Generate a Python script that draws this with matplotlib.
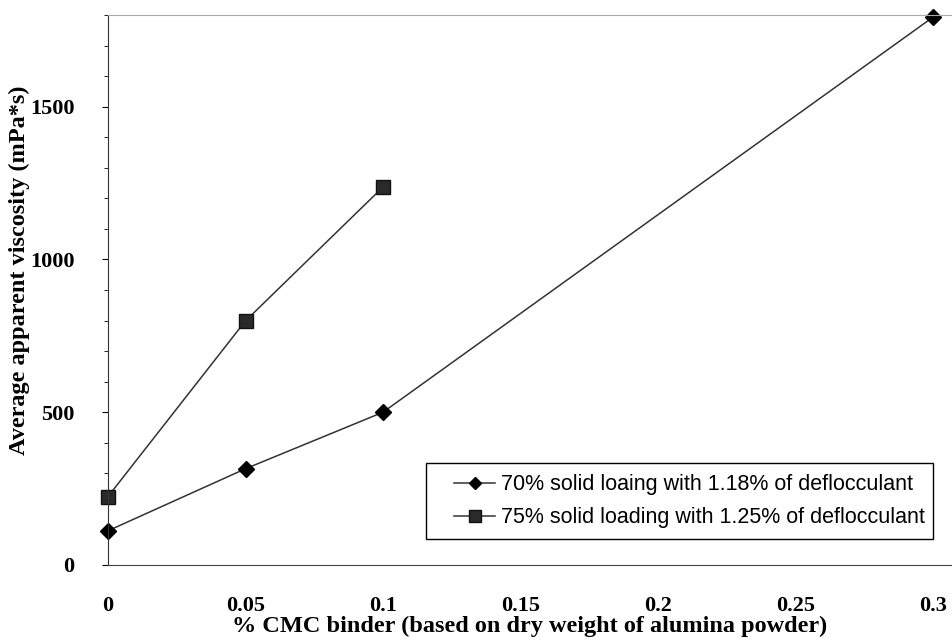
import matplotlib.pyplot as plt
from matplotlib.patches import Rectangle
from matplotlib.ticker import MultipleLocator

# Daten
cmc = [0, 0.05, 0.1, 0.3]
visc_70 = [112, 315, 500, 1793]
cmc_75 = [0, 0.05, 0.1]
visc_75 = [224, 799, 1237]

label_70 = "70% solid loaing with 1.18% of deflocculant"
label_75 = "75% solid loading with 1.25% of deflocculant"

x_ticks = [0, 0.05, 0.1, 0.15, 0.2, 0.25, 0.3]
x_ticklabels = ["0", "0.05", "0.1", "0.15", "0.2", "0.25", "0.3"]
y_ticks = [0, 500, 1000, 1500]

serif = ["Liberation Serif", "DejaVu Serif"]
narrow = ["Liberation Sans Narrow", "Liberation Sans", "DejaVu Sans"]

fig = plt.figure(figsize=(9.52, 6.43), dpi=100)
ax = fig.add_axes([108 / 952, 1 - 565 / 643, 844 / 952, 550 / 643])

ax.plot(cmc, visc_70, color="#333333", linewidth=1.1, marker="D", markersize=8,
        markerfacecolor="black", markeredgecolor="black", label=label_70, clip_on=False)
ax.plot(cmc_75, visc_75, color="#333333", linewidth=1.1, marker="s", markersize=10,
        markerfacecolor="#2a2a2a", markeredgecolor="#111111", label=label_75, clip_on=False)

ax.set_xlim(0, 0.3 * 844 / 825)
ax.set_ylim(0, 1800)

ax.set_xticks(x_ticks)
ax.set_xticklabels(x_ticklabels)
ax.set_yticks(y_ticks)
ax.yaxis.set_minor_locator(MultipleLocator(100))
ax.tick_params(axis="x", length=0, pad=22)
ax.tick_params(axis="y", which="major", length=4, pad=20, direction="out")
ax.tick_params(axis="y", which="minor", length=3, direction="out")
for lab in ax.get_xticklabels() + ax.get_yticklabels():
    lab.set_family(serif)
    lab.set_fontweight("bold")
    lab.set_fontsize(16)

ax.spines["right"].set_visible(False)
ax.spines["top"].set_color("#aaaaaa")
ax.spines["top"].set_linestyle((0, (2, 1)))
ax.spines["left"].set_color("#333333")
ax.spines["bottom"].set_color("#444444")

ax.set_xlabel("% CMC binder (based on dry weight of alumina powder)",
              family=serif, fontweight="bold", fontsize=17.5, labelpad=0)
ax.set_ylabel("Average apparent viscosity (mPa*s)",
              family=serif, fontweight="bold", fontsize=17.5)
ax.yaxis.set_label_coords(-0.092, 0.536)

# Legende ohne eigenen Rahmen, Rahmen separat (breiter links wie im Original)
leg = ax.legend(loc="center right", bbox_to_anchor=(0.971, 0.116),
                prop={"family": narrow, "size": 15.5}, frameon=False,
                handlelength=1.9, markerscale=0.8,
                borderpad=0.1, borderaxespad=0, labelspacing=0.55, handletextpad=0.3)
ax.add_patch(Rectangle((0.377, 0.047), 0.6, 0.138, transform=ax.transAxes,
                       fill=False, edgecolor="black", linewidth=1.0, zorder=5))

plt.savefig("out.png", dpi=100)
plt.close()
